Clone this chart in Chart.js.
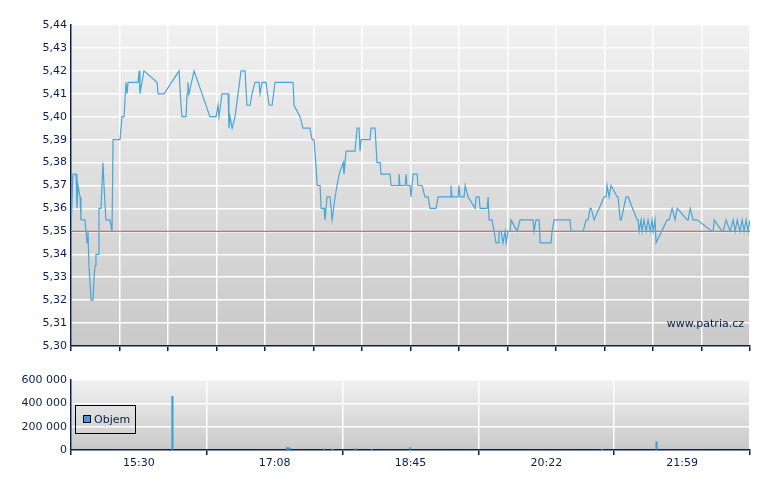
<!DOCTYPE html>
<html><head><meta charset="utf-8">
<script src="https://cdn.jsdelivr.net/npm/chart.js@4"></script>
<style>body{margin:0;background:#fff;width:780px;height:490px;position:relative;overflow:hidden}
canvas{position:absolute;left:0}</style></head><body>
<div style="position:absolute;left:0;top:0;width:780px;height:360px"><canvas id="c1"></canvas></div>
<div style="position:absolute;left:0;top:360px;width:780px;height:130px"><canvas id="c2"></canvas></div>
<script>
// minutes since 15:30
const priceTimes=[0,1.1,2.9,3.4,4,5.2,5.7,8,8.6,9.2,9.7,10.3,11.5,12.6,13.2,13.8,14.3,15.5,16,17.2,18.3,18.9,20,22.3,23.5,24.1,28.1,29.2,30.4,31.5,32.1,32.7,38.4,39,39.5,41.8,49.3,49.9,53.3,61.9,63,63.6,65.9,66.5,67,67.6,70.5,79.6,83.1,84.2,84.8,86.5,90,90.5,91.1,92.3,94,97.4,99.7,100.8,102.6,103.7,105.4,107.7,108.3,109.4,111.7,113.5,115.2,116.9,127.2,127.8,131.2,132.9,136.9,138.1,139.2,140.4,141,142.7,143.3,145,145.5,146.7,148.4,149.6,151.3,152.4,153.6,155.9,156.4,157.6,162.7,163.9,165,165.6,166.2,171.3,171.9,174.2,175.3,177.1,177.6,182.8,183.4,187.4,187.9,188.5,191.4,192,192.5,194.2,194.8,195.4,196,198.3,198.8,201.1,202.8,204.6,205.7,209.1,210.3,217.2,217.7,218.3,221.8,222.3,222.9,225.2,225.8,227.5,231.5,232.1,233.8,234.4,238.4,239,239.5,241.2,242.4,243.5,244.7,245.2,246.4,247.5,248.7,249.3,250.4,251.5,252.1,255.6,257.3,264.7,265.3,266.4,268.2,268.8,275,275.6,276.8,285.9,286.5,293.4,295.1,296.2,297.4,298,299.7,305.4,306.6,307.1,308.3,309.4,312.9,313.4,314.6,315.2,318,319.2,324.3,324.9,325.5,326.6,327.2,328.3,329.5,330.6,331.8,332.9,333.5,334.6,335.2,341.5,342.7,344.4,346.1,347.3,353,353.6,354.7,356.4,358.7,367.3,367.9,368.5,373,373.6,375.3,377.6,379.4,380.5,381.7,383.3,384.5,385.6,386.8,387.9,389];
const priceValues=[5.35,5.375,5.375,5.36,5.37,5.365,5.355,5.355,5.35,5.345,5.35,5.335,5.32,5.32,5.33,5.335,5.34,5.34,5.36,5.36,5.38,5.37,5.355,5.355,5.35,5.39,5.39,5.40,5.40,5.415,5.41,5.415,5.415,5.42,5.41,5.42,5.415,5.41,5.41,5.42,5.405,5.40,5.40,5.41,5.415,5.41,5.42,5.40,5.40,5.405,5.40,5.41,5.41,5.395,5.40,5.395,5.40,5.42,5.42,5.405,5.405,5.41,5.415,5.415,5.41,5.415,5.415,5.405,5.405,5.415,5.415,5.405,5.40,5.395,5.395,5.39,5.39,5.378,5.37,5.37,5.36,5.36,5.355,5.365,5.365,5.355,5.365,5.37,5.375,5.38,5.375,5.385,5.385,5.395,5.395,5.385,5.39,5.39,5.395,5.395,5.38,5.38,5.375,5.375,5.37,5.37,5.375,5.37,5.37,5.375,5.37,5.37,5.365,5.37,5.375,5.375,5.37,5.37,5.365,5.365,5.36,5.36,5.365,5.365,5.37,5.365,5.365,5.37,5.365,5.365,5.37,5.365,5.36,5.365,5.365,5.36,5.36,5.365,5.355,5.355,5.35,5.345,5.345,5.35,5.35,5.345,5.35,5.345,5.35,5.35,5.355,5.35,5.355,5.355,5.35,5.355,5.355,5.345,5.345,5.35,5.355,5.355,5.35,5.35,5.355,5.355,5.36,5.36,5.355,5.365,5.365,5.37,5.365,5.37,5.365,5.365,5.355,5.355,5.365,5.365,5.355,5.355,5.35,5.355,5.35,5.355,5.35,5.355,5.35,5.355,5.35,5.355,5.345,5.355,5.355,5.36,5.355,5.36,5.355,5.355,5.36,5.355,5.355,5.35,5.35,5.355,5.35,5.35,5.355,5.35,5.355,5.35,5.355,5.35,5.355,5.35,5.355,5.35,5.355,5.35];
const refPrice=5.35;
const volTimes=[24,106,107.2,108.3,132.4,138.7,154.7,155.3,166.7,194.2,331.8,370.7];
const volValues=[460000,20000,20000,15000,8000,5000,10000,8000,5000,20000,5000,70000];
const timeLabels=['15:30','17:08','18:45','20:22','21:59'];
const priceTicks=[5.30,5.31,5.32,5.33,5.34,5.35,5.36,5.37,5.38,5.39,5.40,5.41,5.42,5.43,5.44];
const volTicks=[0,200000,400000,600000];

const NAVY='#0a1f4d', FONT={family:'DejaVu Sans',size:11};
const bgPlugin={id:'bg',beforeDraw(c){const a=c.chartArea,x=c.ctx;const g=x.createLinearGradient(0,a.top,0,a.bottom);g.addColorStop(0,'#f1f1f1');g.addColorStop(1,'#c9c9c9');x.save();x.fillStyle=g;x.fillRect(a.left,a.top,a.right-a.left,a.bottom-a.top);x.restore();}};
Chart.defaults.animation=false;Chart.defaults.font=FONT;Chart.defaults.color=NAVY;

new Chart(document.getElementById('c1'),{type:'line',
 data:{datasets:[
  {data:priceTimes.map((t,i)=>({x:t,y:priceValues[i]})),borderColor:'#4aa6d6',borderWidth:1.2,pointRadius:0,tension:0},
  {data:[{x:0,y:refPrice},{x:389,y:refPrice}],borderColor:'rgba(215,80,80,0.85)',borderWidth:1.2,pointRadius:0}]},
 options:{responsive:true,maintainAspectRatio:false,layout:{padding:{top:25,right:30,left:0,bottom:0}},
  plugins:{legend:{display:false},tooltip:{enabled:false}},
  scales:{x:{type:'linear',min:0,max:389,afterBuildTicks(s){s.ticks=[];for(let i=0;i<=14;i++)s.ticks.push({value:389*i/14});},
     ticks:{callback:()=>'',padding:0},grid:{color:'#ffffff',lineWidth:1.5,tickLength:5,tickColor:NAVY},border:{color:NAVY,width:1.5},afterFit(s){s.height=14;}},
   y:{min:5.30,max:5.44,afterBuildTicks(s){s.ticks=priceTicks.map(v=>({value:v}));},
     ticks:{callback:v=>v.toFixed(2).replace('.',','),padding:4,color:NAVY},grid:{color:'#ffffff',lineWidth:1.5,tickLength:0},border:{color:NAVY,width:1.5},afterFit(s){s.width=71;}}}},
 plugins:[bgPlugin,{id:'wm',afterDraw(c){const x=c.ctx;x.save();x.font='11px DejaVu Sans';x.fillStyle=NAVY;x.textAlign='right';x.fillText('www.patria.cz',c.chartArea.right-6,c.chartArea.bottom-19);x.restore();}}]});

new Chart(document.getElementById('c2'),{type:'bar',
 data:{datasets:[{data:volTimes.map((t,i)=>({x:t,y:volValues[i]})),backgroundColor:'#3aa0d8',barThickness:1.5}]},
 options:{responsive:true,maintainAspectRatio:false,layout:{padding:{top:20,right:30,left:0,bottom:0}},
  plugins:{legend:{display:false},tooltip:{enabled:false}},
  scales:{x:{type:'linear',min:0,max:389,afterBuildTicks(s){s.ticks=timeLabels.map((l,i)=>({value:389*i/4}));},
     ticks:{callback:(v,i)=>timeLabels[i],padding:2,color:NAVY,maxRotation:0,autoSkip:false},grid:{color:'#ffffff',lineWidth:1.5,tickLength:5,tickColor:NAVY},border:{color:NAVY,width:1.5},afterFit(s){s.height=40;}},
   y:{min:0,max:600000,afterBuildTicks(s){s.ticks=volTicks.map(v=>({value:v}));},
     ticks:{callback:v=>v===0?'0':String(v).replace(/\B(?=(\d{3})+$)/g,' '),padding:4,color:NAVY},grid:{color:'#ffffff',lineWidth:1.5,tickLength:0},border:{color:NAVY,width:1.5},afterFit(s){s.width=71;}}}},
 plugins:[bgPlugin,{id:'lg',afterDraw(c){const x=c.ctx,a=c.chartArea;x.save();const bx=a.left+4,by=a.top+25;x.strokeStyle='#000';x.lineWidth=1;x.strokeRect(bx+0.5,by+0.5,60,28);x.fillStyle='#3aa0d8';x.fillRect(bx+8,by+10,7,7);x.strokeRect(bx+8.5,by+10.5,7,7);x.fillStyle=NAVY;x.font='11px DejaVu Sans';x.textBaseline='middle';x.fillText('Objem',bx+19,by+15);x.restore();}}]});
</script></body></html>
